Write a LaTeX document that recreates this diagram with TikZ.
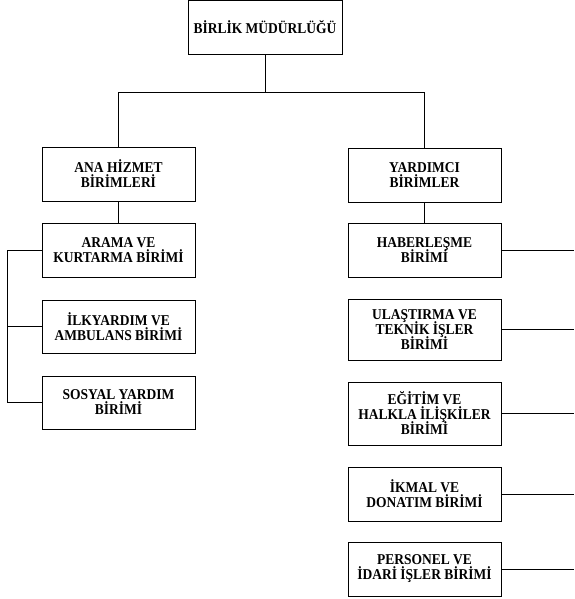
\documentclass[tikz,border=0pt]{standalone}
\usepackage{fontspec}
\setmainfont[FakeStretch=0.9]{Liberation Serif}
\setlength{\lineskiplimit}{-20pt}
\begin{document}
\begin{tikzpicture}[x=1pt,y=-1pt,
  unit/.style={draw, line width=0.9pt, rectangle, minimum width=153pt, minimum height=54pt, align=center, inner sep=2pt,
    font=\fontsize{15}{15}\selectfont\bfseries},
  conn/.style={line width=0.9pt}]
\useasboundingbox (0,0) rectangle (574,599);
\node[unit, minimum width=154pt] (top) at (265,27.5) {BİRLİK MÜDÜRLÜĞÜ};
\node[unit] (ana) at (118.5,174) {ANA HİZMET\\BİRİMLERİ};
\node[unit] (yard) at (424.5,175) {YARDIMCI\\BİRİMLER};
\node[unit] (arama) at (118.5,250) {ARAMA VE\\KURTARMA BİRİMİ};
\node[unit, minimum height=53pt] (ilk) at (118.5,326.5) {İLKYARDIM VE\\AMBULANS BİRİMİ};
\node[unit, minimum height=53pt] (sosyal) at (118.5,402.5) {SOSYAL YARDIM\\BİRİMİ};
\node[unit] (haber) at (424.5,250) {HABERLEŞME\\BİRİMİ};
\node[unit, minimum height=61pt] (ulas) at (424.5,329.5) {ULAŞTIRMA VE\\TEKNİK İŞLER\\BİRİMİ};
\node[unit, minimum height=63pt] (egitim) at (424.5,413.5) {EĞİTİM VE\\HALKLA İLİŞKİLER\\BİRİMİ};
\node[unit] (ikmal) at (424.5,494) {İKMAL VE\\DONATIM BİRİMİ};
\node[unit] (pers) at (424.5,569) {PERSONEL VE\\İDARİ İŞLER BİRİMİ};
\coordinate (j) at (265,92);
\coordinate (lb) at (7,0);
\coordinate (edge) at (574,0);
\draw[conn] (top.south) -- (j);
\draw[conn] (j) -| (ana.north);
\draw[conn] (j) -| (yard.north);
\draw[conn] (ana.south) -- (arama.north);
\draw[conn] (yard.south) -- (haber.north);
\draw[conn] (arama.west) -- (arama.west -| lb) |- (sosyal.west);
\draw[conn] (ilk.west) -- (ilk.west -| lb);
\foreach \n in {haber,ulas,egitim,ikmal,pers}
  \draw[conn] (\n.east) -- (\n.east -| edge);
\end{tikzpicture}
\end{document}
